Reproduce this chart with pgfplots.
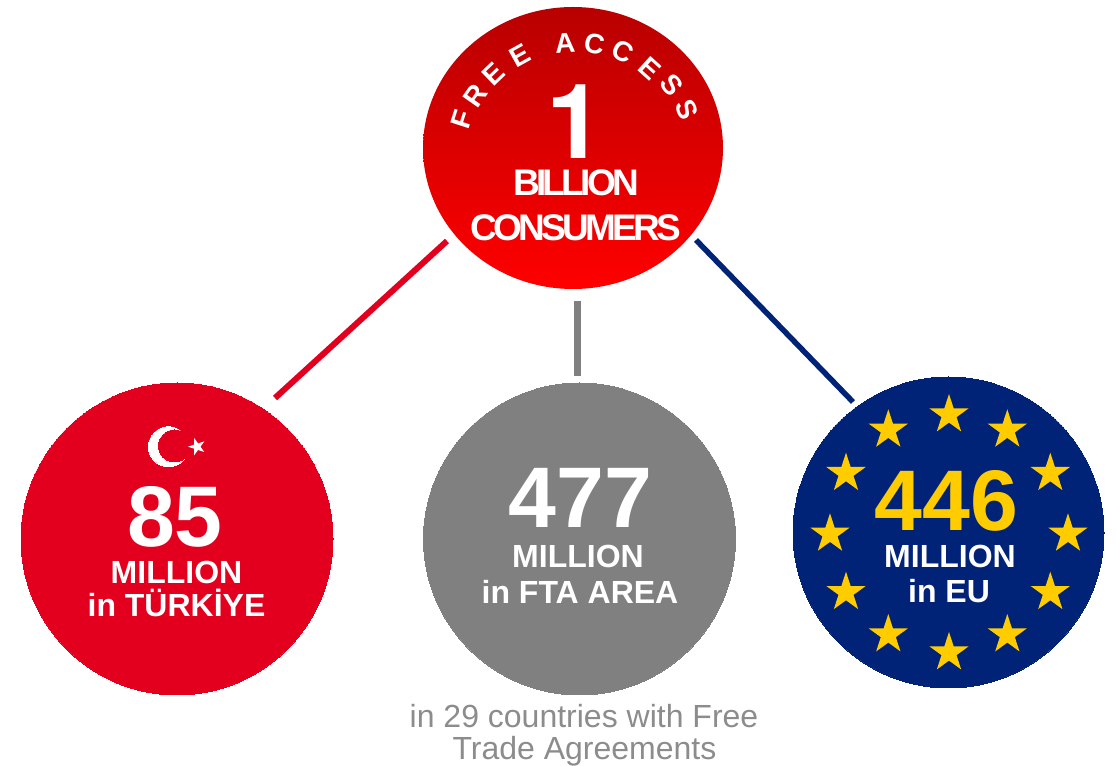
\documentclass[border=0pt]{standalone}
\usepackage{pgfplots}
\pgfplotsset{compat=1.18}
\usepackage{fontspec}
\setmainfont{Liberation Sans}
\newfontfamily\heros{TeX Gyre Heros}
\definecolor{tr}{HTML}{E2001E}
\definecolor{gy}{HTML}{808080}
\definecolor{eu}{HTML}{002277}
\definecolor{gold}{HTML}{FFCC00}
\definecolor{lg}{HTML}{8C8C8C}
\definecolor{gbot}{HTML}{FF0000}
\definecolor{gtop}{HTML}{B80000}
\pgfdeclareverticalshading{redgrad}{100bp}{color(0bp)=(gbot);color(25bp)=(gbot);color(75bp)=(gtop);color(100bp)=(gtop)}
\pgfdeclareplotmark{gradcircle}{%
  \pgfpathcircle{\pgfpointorigin}{\pgfplotmarksize}%
  \pgfshadepath{redgrad}{0}%
  \pgfusepath{discard}}
\pgfdeclareplotmark{fstar}{%
  \pgfpathmoveto{\pgfqpointpolar{90}{\pgfplotmarksize}}%
  \pgfpathlineto{\pgfqpointpolar{126}{0.382\pgfplotmarksize}}%
  \pgfpathlineto{\pgfqpointpolar{162}{\pgfplotmarksize}}%
  \pgfpathlineto{\pgfqpointpolar{198}{0.382\pgfplotmarksize}}%
  \pgfpathlineto{\pgfqpointpolar{234}{\pgfplotmarksize}}%
  \pgfpathlineto{\pgfqpointpolar{270}{0.382\pgfplotmarksize}}%
  \pgfpathlineto{\pgfqpointpolar{306}{\pgfplotmarksize}}%
  \pgfpathlineto{\pgfqpointpolar{342}{0.382\pgfplotmarksize}}%
  \pgfpathlineto{\pgfqpointpolar{18}{\pgfplotmarksize}}%
  \pgfpathlineto{\pgfqpointpolar{54}{0.382\pgfplotmarksize}}%
  \pgfpathclose
  \pgfusepathqfill}
\newcommand{\fs}[2]{\fontsize{#1}{#1}\selectfont\bfseries #2}
\tikzset{t/.style={inner sep=0pt, outer sep=0pt, anchor=base}}
\begin{document}
\begin{tikzpicture}
\begin{axis}[
  scale only axis, width=1117pt, height=766pt,
  xmin=0, xmax=1117, ymin=0, ymax=766, y dir=reverse,
  hide axis, clip=false, set layers=standard
]
\path (axis cs:0,0) rectangle (axis cs:1117,766);
% connector lines
\addplot[tr, line width=6pt] coordinates {(447,241) (275,398)};
\addplot[gy, line width=7pt] coordinates {(577,301) (577,376)};
\addplot[eu, line width=5.5pt] coordinates {(696,240) (853,402)};
% circles
\addplot[only marks, mark=gradcircle, mark size=150pt, mark options={yscale=0.94}] coordinates {(573,148)};
\addplot[only marks, mark=*, mark size=156pt, mark options={fill=tr, draw=tr, line width=0pt}] coordinates {(177,539)};
\addplot[only marks, mark=*, mark size=156pt, mark options={fill=gy, draw=gy, line width=0pt}] coordinates {(579.5,539)};
\addplot[only marks, mark=*, mark size=155.5pt, mark options={fill=eu, draw=eu, line width=0pt}] coordinates {(948.5,532.5)};
% EU stars
\addplot[only marks, mark=fstar, mark size=20.7pt, mark options={fill=gold}] coordinates {
 (949,414.7) (1007.3,430) (1050.3,473.4) (1068,534) (1050.3,592.4) (1007.3,634.7)
 (949,652.7) (888.3,634.7) (846,592.4) (830,534) (846,473.4) (888.3,430)};
% Turkish crescent and star
\addplot[only marks, mark=*, mark size=20pt, mark options={fill=white, draw=white, line width=0pt}] coordinates {(168.5,446.7)};
\addplot[only marks, mark=*, mark size=16pt, mark options={fill=tr, draw=tr, line width=0pt}] coordinates {(174.5,446)};
\addplot[only marks, mark=fstar, mark size=9pt, mark options={fill=white, rotate=90}] coordinates {(197,446.7)};
\begin{pgfonlayer}{axis foreground}
% top circle text
\node[t,white] at (axis cs:575.5,159) {\fontsize{104}{104}\selectfont\heros\bfseries 1};
\node[t,white] at (axis cs:576,196) {\fs{37}{\addfontfeature{LetterSpace=-10}BILLION}};
\node[t,white] at (axis cs:576,241) {\fs{37}{\addfontfeature{LetterSpace=-10}CONSUMERS}};
% curved text
\foreach \x/\y/\r/\l in {461.7/119/72/F,475/95.7/55/R,493.3/74/44/E,520/56/29/E,565/43.3/4/A,594.3/44.3/-11/C,623.3/51.7/-27/C,650/68.3/-42/E,671.7/85/-52/S,686.7/110/-68/S}{
  \edef\temp{\noexpand\node[white, inner sep=0pt, anchor=center, rotate=\r] at (axis cs:\x,\y) {\noexpand\fs{28}{\l}};}
  \temp
}
% left
\node[t,white] at (axis cs:175,547) {\fs{86}{85}};
\node[t,white] at (axis cs:176.5,583.5) {\fs{32}{MILLION}};
\node[t,white] at (axis cs:176.5,617) {\fs{32}{in TÜRKİYE}};
% centre
\node[t,white] at (axis cs:580.5,528) {\fs{86}{477}};
\node[t,white] at (axis cs:578,567.5) {\fs{32}{MILLION}};
\node[t,white] at (axis cs:580,603.5) {\fs{32}{in FTA AREA}};
% EU
\node[t,gold] at (axis cs:946.5,530.5) {\fs{86}{446}};
\node[t,white] at (axis cs:950,567.5) {\fs{32}{MILLION}};
\node[t,white] at (axis cs:949,602.5) {\fs{32}{in EU}};
% caption
\node[t,lg] at (axis cs:584,727.5) {\fontsize{32}{32}\selectfont in 29 countries with Free};
\node[t,lg,overlay] at (axis cs:584.5,760) {\fontsize{32}{32}\selectfont Trade Agreements};
\end{pgfonlayer}
\end{axis}
\end{tikzpicture}
\end{document}
